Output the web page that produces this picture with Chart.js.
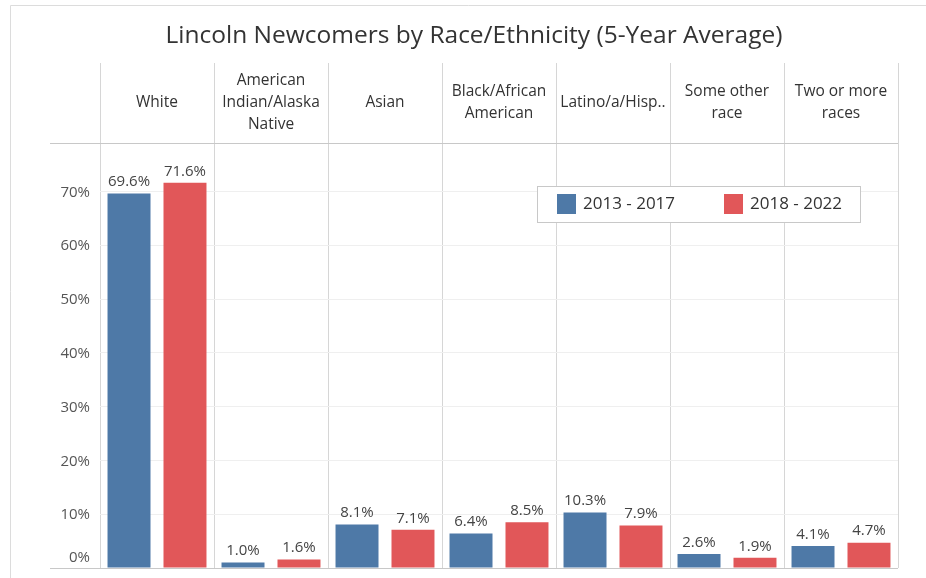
<!DOCTYPE html>
<html>
<head>
<meta charset="utf-8">
<title>Lincoln Newcomers by Race/Ethnicity</title>
<script src="https://cdn.jsdelivr.net/npm/chart.js@4/dist/chart.umd.min.js"></script>
<style>
  html, body { margin: 0; padding: 0; background: #fff; }
  canvas { display: block; }
</style>
</head>
<body>
<canvas id="newcomers" width="926" height="578"></canvas>
<script>
// Categories and values (percent of newcomers)
const categories = [
  'White',
  ['American', 'Indian/Alaska', 'Native'],
  'Asian',
  ['Black/African', 'American'],
  'Latino/a/Hisp..',
  ['Some other', 'race'],
  ['Two or more', 'races']
];
const periods = ['2013 - 2017', '2018 - 2022'];
const share2013to2017 = [69.6, 1.0, 8.1, 6.4, 10.3, 2.6, 4.1];
const share2018to2022 = [71.6, 1.6, 7.1, 8.5, 7.9, 1.9, 4.7];
const yMax = 79;
const yStep = 10;

const chartTitle = 'Lincoln Newcomers by Race/Ethnicity (5-Year Average)';
const FONT = "'Open Sans', sans-serif";
const BLUE = '#4e79a7';
const RED = '#e15759';

const isMajor = v => v % yStep === 0;

// frame, title, axis labels, header/baseline rules, value labels and the floating legend
const tablePlugin = {
  id: 'tablePlugin',
  beforeDraw(chart) {
    const { ctx } = chart;
    ctx.save();
    ctx.strokeStyle = '#dcdcdc';
    ctx.lineWidth = 1;
    ctx.beginPath();
    ctx.moveTo(10.5, chart.height);
    ctx.lineTo(10.5, 5.5);
    ctx.lineTo(chart.width, 5.5);
    ctx.stroke();

    ctx.fillStyle = '#333';
    ctx.font = '24.5px ' + FONT;
    ctx.textAlign = 'center';
    ctx.textBaseline = 'middle';
    ctx.fillText(chartTitle, 474, 36);
    ctx.restore();
  },
  afterDatasetsDraw(chart) {
    const { ctx, chartArea } = chart;
    const y = chart.scales.y;
    ctx.save();
    ctx.strokeStyle = '#c8c8c8';
    ctx.lineWidth = 1;
    ctx.beginPath();
    ctx.moveTo(50, chartArea.top + 0.5);
    ctx.lineTo(chartArea.right, chartArea.top + 0.5);
    ctx.moveTo(50, chartArea.bottom + 0.5);
    ctx.lineTo(chartArea.right, chartArea.bottom + 0.5);
    ctx.stroke();

    // y labels; the zero label sits just above the baseline
    ctx.fillStyle = '#555';
    ctx.font = '15px ' + FONT;
    ctx.textAlign = 'right';
    ctx.textBaseline = 'middle';
    y.ticks.filter(t => isMajor(t.value)).forEach(t => {
      const py = y.getPixelForValue(t.value) + 1;
      ctx.fillText(t.value + '%', chartArea.left - 10, t.value === 0 ? py - 11 : py);
    });

    // value labels above each bar
    ctx.fillStyle = '#444';
    ctx.textAlign = 'center';
    ctx.textBaseline = 'bottom';
    chart.data.datasets.forEach((ds, i) => {
      chart.getDatasetMeta(i).data.forEach((bar, j) => {
        ctx.fillText(ds.data[j].toFixed(1) + '%', bar.x, bar.y - 4);
      });
    });

    // legend box
    const lx = 537, ly = 186, lw = 323, lh = 36;
    ctx.fillStyle = '#fff';
    ctx.fillRect(lx, ly, lw, lh);
    ctx.strokeStyle = '#c8c8c8';
    ctx.strokeRect(lx + 0.5, ly + 0.5, lw, lh);
    ctx.font = '17px ' + FONT;
    ctx.textAlign = 'left';
    ctx.textBaseline = 'middle';
    const slots = [557, 724];
    chart.data.datasets.forEach((ds, i) => {
      ctx.fillStyle = ds.backgroundColor;
      ctx.fillRect(slots[i], ly + 8, 19, 20);
      ctx.fillStyle = '#333';
      ctx.fillText(ds.label, slots[i] + 26, ly + 18);
    });
    ctx.restore();
  }
};

new Chart(document.getElementById('newcomers'), {
  type: 'bar',
  data: {
    labels: categories,
    datasets: [
      { label: periods[0], data: share2013to2017, backgroundColor: BLUE },
      { label: periods[1], data: share2018to2022, backgroundColor: RED }
    ]
  },
  options: {
    responsive: false,
    animation: false,
    events: [],
    barPercentage: 0.768,
    categoryPercentage: 0.982,
    layout: { padding: { top: 63, left: 10, right: 28, bottom: 10 } },
    plugins: {
      legend: { display: false },
      title: { display: false },
      tooltip: { enabled: false }
    },
    scales: {
      x: {
        position: 'top',
        grid: {
          offset: true,
          color: '#d6d6d6',
          tickColor: '#d6d6d6',
          tickLength: 80
        },
        border: { display: false },
        ticks: {
          color: '#333',
          font: { family: FONT, size: 15.5, lineHeight: 22 / 15.5 },
          padding: -62,
          crossAlign: 'center',
          maxRotation: 0,
          autoSkip: false
        },
        afterFit(scale) { scale.height = 80; }
      },
      y: {
        min: 0,
        max: yMax,
        grid: {
          color: c => (c.tick && isMajor(c.tick.value) ? '#efefef' : 'rgba(0,0,0,0)'),
          drawTicks: false
        },
        border: { display: false },
        ticks: { stepSize: yStep, display: false },
        afterFit(scale) { scale.width = 90; }
      }
    }
  },
  plugins: [tablePlugin]
});
</script>
</body>
</html>
